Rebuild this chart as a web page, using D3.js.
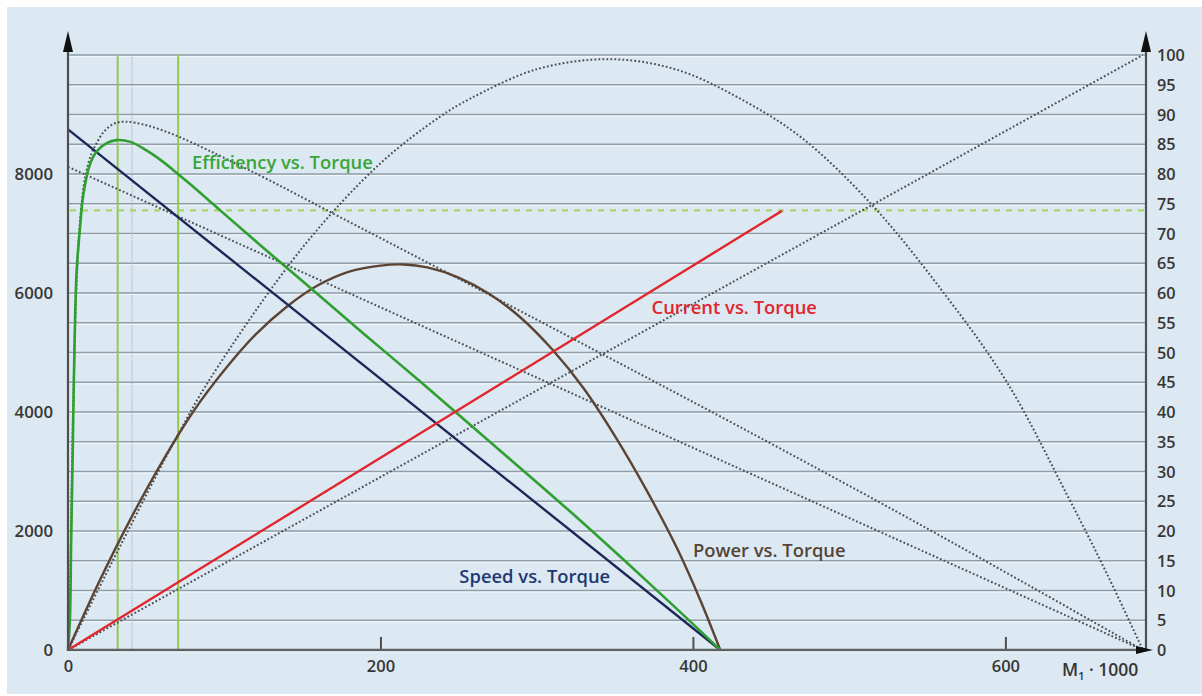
<!DOCTYPE html>
<html>
<head>
<meta charset="utf-8">
<script src="https://cdn.jsdelivr.net/npm/d3@7/dist/d3.min.js"></script>
<style>
  html, body { margin: 0; padding: 0; background: #ffffff; }
  svg { display: block; }
  text { font-family: "Open Sans", "DejaVu Sans", sans-serif; }
</style>
</head>
<body>
<svg id="chart" width="1202" height="696"></svg>
<script>
// ---------- DATA ----------
const torqueTicks = [0, 200, 400, 600];
const speedTicks = [0, 2000, 4000, 6000, 8000];
const percentTicks = [0, 5, 10, 15, 20, 25, 30, 35, 40, 45, 50, 55, 60, 65, 70, 75, 80, 85, 90, 95, 100];

// speed in rpm (left axis)
const speedMotor = [[0, 8750], [417.5, 0]];
const speedMax = [[0, 8120], [688, 0]];

// percent (right axis)
const efficiency = [[0, 0], [1.2, 5], [2, 18], [3, 33], [3.8, 46], [5.5, 63.5], [7.7, 71], [9.8, 76.5],
  [14, 81.6], [18.4, 83.8], [24.8, 85.2], [31, 85.7], [40, 85.4], [50, 84], [60, 82.2], [70, 80.1],
  [80, 77.9], [90, 75.6], [100, 73.3], [125, 67.6], [150, 62], [190, 53], [226, 45], [270, 35],
  [320, 23.6], [370, 11.7], [417.5, 0]];
const efficiencyMax = [[0, 0], [1.5, 12], [2.5, 30], [3.8, 46], [5.5, 62], [8, 73], [11, 79.5], [15, 83.4],
  [18.4, 85.2], [22.6, 87], [29, 88.4], [36.5, 88.8], [50, 88.2], [65, 86.9], [80, 85.2], [100, 82.7],
  [130, 78.8], [165, 74], [250, 62.4], [340, 50], [430, 37.5], [530, 23.3], [610, 11.6], [688, 0]];
const current = [[0, 0], [457, 73.8]];
const currentMax = [[0, 0], [688, 100]];
const power = [[0, 0], [20, 11.5], [40, 22], [60, 31.5], [80, 40], [100, 47], [120, 53], [140, 57.7],
  [160, 61.3], [180, 63.6], [200, 64.6], [215, 64.8], [230, 64.3], [250, 62.6], [270, 59.8], [290, 55.8],
  [310, 50.5], [330, 44], [350, 36], [370, 27], [390, 17], [405, 8.2], [417.5, 0]];
const powerMax = [[0, 0], [35, 18.3], [70, 36], [91, 45.6], [150, 67.6], [200, 81.8], [238, 89.6],
  [257, 92.6], [300, 97.6], [347, 99.3], [390, 97.5], [432, 92.4], [470, 86], [515, 74.7], [560, 60.2],
  [601, 45], [640, 25.8], [665, 12.8], [688, 0]];

const ratedLevel = 73.9;          // dashed green horizontal (percent)
const greenMarkers = [31.8, 70.5]; // vertical green lines (torque)
const greyMarkers = [41];          // thin grey vertical line (torque)

const labels = [
  { text: "Efficiency vs. Torque", t: 79.4, v: 80.8, color: "#37a637" },
  { text: "Current vs. Torque", t: 373.5, v: 56.4, color: "#e0252d" },
  { text: "Power vs. Torque", t: 400, v: 15.7, color: "#544538" },
  { text: "Speed vs. Torque", t: 250.5, v: 11.2, color: "#1f3872" }
];

// ---------- LAYOUT ----------
const svg = d3.select("#chart");
const X0 = 68, X1 = 1146, Y0 = 650, Y1 = 55;

const x = d3.scaleLinear().domain([0, 690]).range([X0, X1]);
const yR = d3.scaleLinear().domain([0, 100]).range([Y0, Y1]);
const yL = d3.scaleLinear().domain([0, 10000]).range([Y0, Y1]);

// background
svg.append("rect").attr("x", 7).attr("y", 7).attr("width", 1195).attr("height", 687).attr("fill", "#dce8f2");

// gridlines
const grid = svg.append("g");
percentTicks.filter(d => d > 0).forEach(d => {
  grid.append("line").attr("x1", X0).attr("x2", X1).attr("y1", yR(d)).attr("y2", yR(d))
    .attr("stroke", "#8f9ea8").attr("stroke-width", 1.6);
  grid.append("line").attr("x1", X0).attr("x2", X1).attr("y1", yR(d) + 1.6).attr("y2", yR(d) + 1.6)
    .attr("stroke", "#f4f8fb").attr("stroke-width", 1);
});

// vertical marker lines
greyMarkers.forEach(t => {
  svg.append("line").attr("x1", x(t)).attr("x2", x(t)).attr("y1", yR(100)).attr("y2", Y0)
    .attr("stroke", "#a9b6bf").attr("stroke-width", 1).attr("stroke-dasharray", "1.5,1");
});
greenMarkers.forEach(t => {
  svg.append("line").attr("x1", x(t)).attr("x2", x(t)).attr("y1", yR(100)).attr("y2", Y0)
    .attr("stroke", "#8fc84a").attr("stroke-width", 1.9);
});

// dashed rated level
svg.append("line").attr("x1", X0 + 2).attr("x2", X1).attr("y1", yR(ratedLevel)).attr("y2", yR(ratedLevel))
  .attr("stroke", "#a9d46c").attr("stroke-width", 2.2).attr("stroke-dasharray", "6,6");

const lineR = d3.line().x(d => x(d[0])).y(d => yR(d[1])).curve(d3.curveCatmullRom.alpha(0.5));
const lineL = d3.line().x(d => x(d[0])).y(d => yL(d[1]));
const straightR = d3.line().x(d => x(d[0])).y(d => yR(d[1]));

// dotted theoretical curves
const dotted = { fill: "none", stroke: "#4a4f53", "stroke-width": 2, "stroke-dasharray": "1.8,2.2" };
function applyAttrs(sel, attrs) { Object.entries(attrs).forEach(([k, v]) => sel.attr(k, v)); return sel; }
applyAttrs(svg.append("path").attr("d", lineR(powerMax)), dotted);
applyAttrs(svg.append("path").attr("d", lineR(efficiencyMax)), dotted);
applyAttrs(svg.append("path").attr("d", lineL(speedMax)), dotted);
applyAttrs(svg.append("path").attr("d", straightR(currentMax)), dotted);

// solid curves
svg.append("path").attr("d", lineR(power)).attr("fill", "none").attr("stroke", "#5b4434").attr("stroke-width", 2.4);
svg.append("path").attr("d", lineL(speedMotor)).attr("fill", "none").attr("stroke", "#1c2858").attr("stroke-width", 2.4);
svg.append("path").attr("d", lineR(efficiency)).attr("fill", "none").attr("stroke", "#2f9f2f").attr("stroke-width", 2.6);
svg.append("path").attr("d", straightR(current)).attr("fill", "none").attr("stroke", "#e2262e").attr("stroke-width", 2.4);

// ---------- AXES ----------
const axisColor = "#4f4f4f";
const labelColor = "#363636";

// left axis
const gL = svg.append("g").attr("transform", `translate(${X0},0)`)
  .call(d3.axisLeft(yL).tickValues(speedTicks).tickSize(0).tickPadding(15).tickFormat(d3.format("d")));
gL.select(".domain").remove();
gL.selectAll("text").attr("font-size", 16.8).attr("font-weight", 600).attr("fill", labelColor).attr("dy", "0.35em");

// right axis
const gR = svg.append("g").attr("transform", `translate(${X1},0)`)
  .call(d3.axisRight(yR).tickValues(percentTicks).tickSize(0).tickPadding(11));
gR.select(".domain").remove();
gR.selectAll("text").attr("font-size", 16.2).attr("font-weight", 600).attr("fill", labelColor).attr("dy", "0.35em");

// bottom axis
const gB = svg.append("g").attr("transform", `translate(0,${Y0})`)
  .call(d3.axisBottom(x).tickValues(torqueTicks).tickSizeInner(-13).tickSizeOuter(0).tickPadding(10));
gB.select(".domain").remove();
gB.selectAll(".tick line").attr("stroke", axisColor).attr("stroke-width", 2)
  .attr("opacity", d => d === 0 ? 0 : 1);
gB.selectAll("text").attr("font-size", 16.5).attr("font-weight", 600).attr("fill", labelColor);

// axis lines
svg.append("line").attr("x1", X0).attr("x2", X1).attr("y1", Y0).attr("y2", Y0)
  .attr("stroke", "#5e6264").attr("stroke-width", 2.6);
svg.append("line").attr("x1", X0).attr("x2", X1).attr("y1", Y0 + 2).attr("y2", Y0 + 2)
  .attr("stroke", "#f4f8fb").attr("stroke-width", 1);
svg.append("line").attr("x1", X0).attr("x2", X0).attr("y1", Y0 + 1).attr("y2", 48)
  .attr("stroke", axisColor).attr("stroke-width", 2.2);
svg.append("line").attr("x1", X1).attr("x2", X1).attr("y1", Y0 + 1).attr("y2", 48)
  .attr("stroke", axisColor).attr("stroke-width", 2.2);

// arrowheads
function arrowUp(cx) {
  svg.append("path").attr("d", `M${cx},31 L${cx - 5},52 L${cx + 5},52 Z`).attr("fill", "#111");
}
arrowUp(X0); arrowUp(X1);
svg.append("path").attr("d", `M${X1 + 7},${Y0} L${X1 - 10},${Y0 - 4} L${X1 - 10},${Y0 + 4} Z`).attr("fill", "#111");

// axis title
const title = svg.append("text").attr("x", 1062).attr("y", 676).attr("font-size", 17.5).attr("font-weight", 600).attr("fill", labelColor);
title.append("tspan").text("M");
title.append("tspan").attr("font-size", 11).attr("dy", 4).text("1");
title.append("tspan").attr("dy", -4).text(" \u00B7 1000");

// series labels
labels.forEach(l => {
  svg.append("text").attr("x", x(l.t)).attr("y", yR(l.v)).attr("font-size", 18.4).attr("font-weight", 600)
    .attr("fill", l.color).text(l.text);
});
</script>
</body>
</html>
